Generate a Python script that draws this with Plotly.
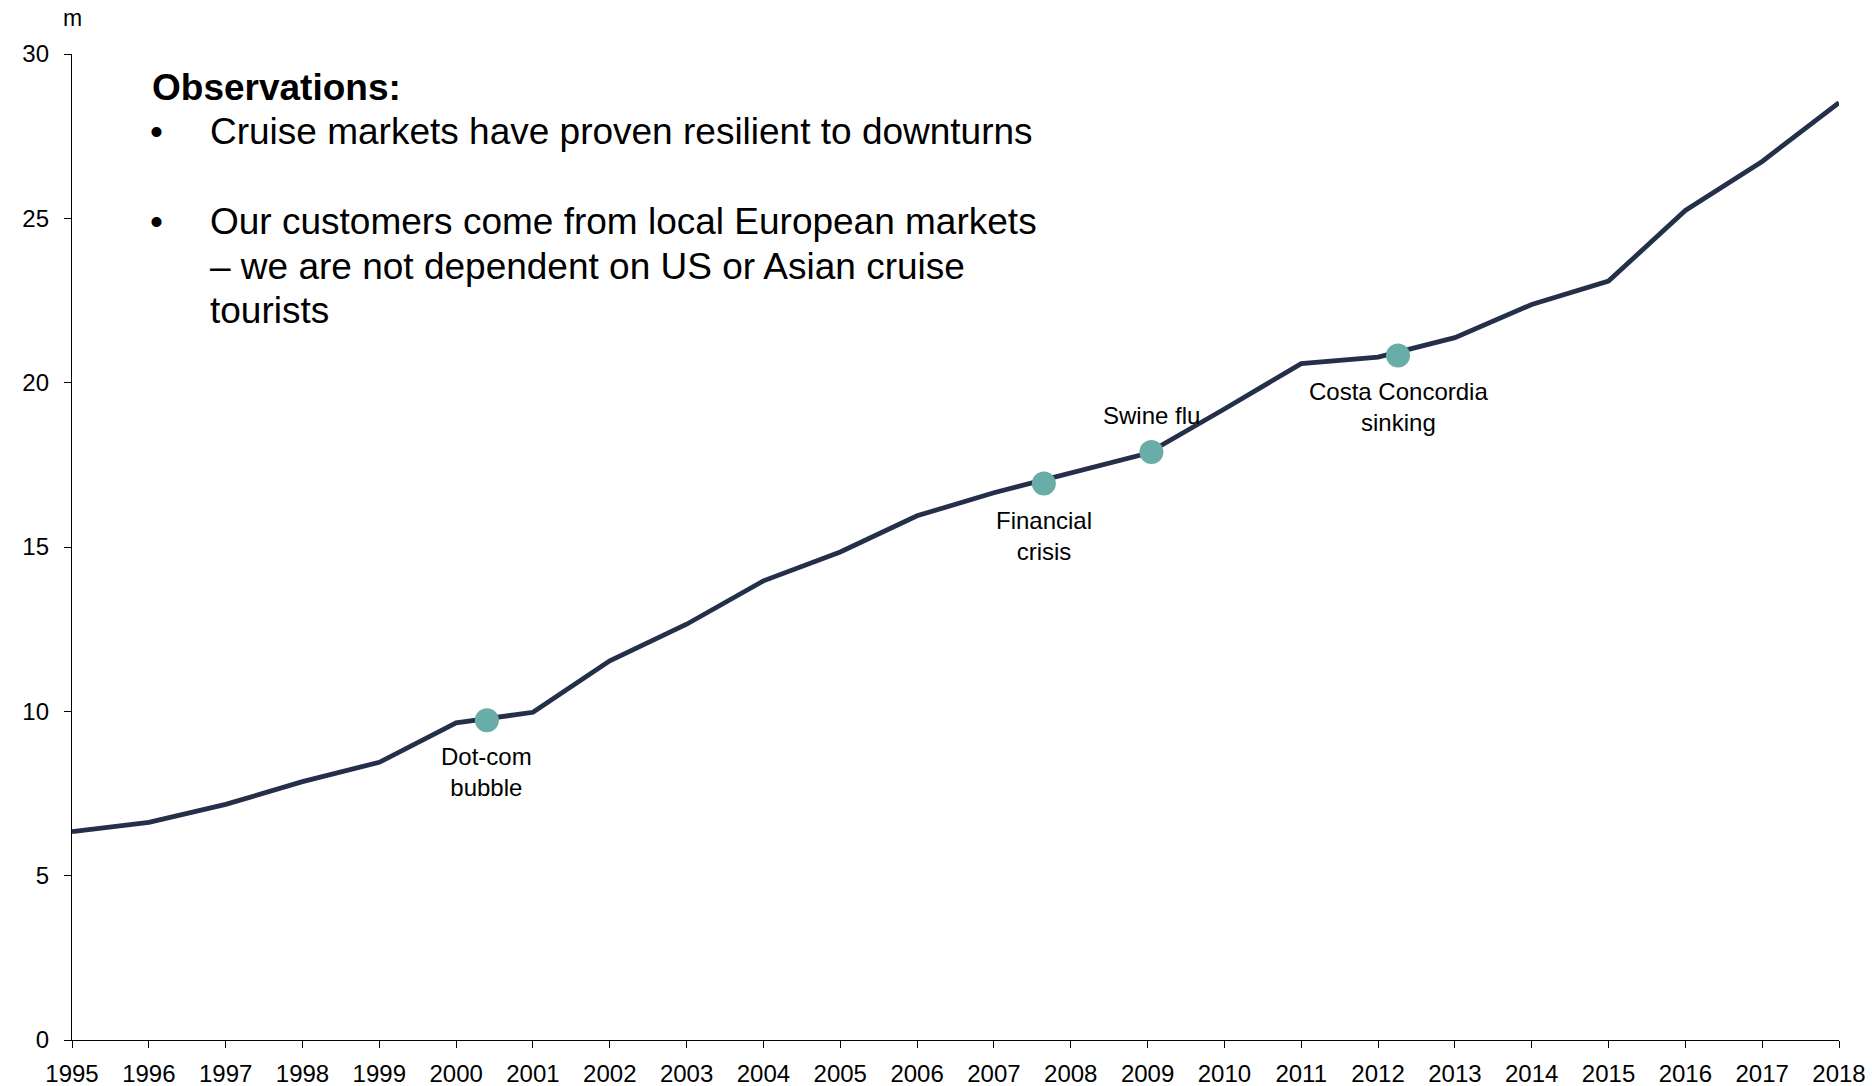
import plotly.graph_objects as go

# ---- data ----
years = list(range(1995, 2019))
passengers_m = [6.34, 6.62, 7.17, 7.86, 8.45, 9.65, 9.97, 11.54, 12.65, 13.97,
                14.85, 15.95, 16.65, 17.25, 17.85, 19.20, 20.58, 20.78, 21.37,
                22.38, 23.09, 25.24, 26.73, 28.52]

event_labels = ["Dot-com<br>bubble", "Financial<br>crisis", "Swine flu",
                "Costa Concordia<br>sinking"]
event_x = [2000.40, 2007.65, 2009.05, 2012.26]
event_y = [9.73, 16.93, 17.89, 20.83]
event_label_below = [True, True, False, True]

y_ticks = [0, 5, 10, 15, 20, 25, 30]
x_ticks = years

obs_title = "Observations:"
obs_lines = [
    ("•", "Cruise markets have proven resilient to downturns"),
    ("•", "Our customers come from local European markets"),
    ("", "– we are not dependent on US or Asian cruise"),
    ("", "tourists"),
]
unit_label = "m"

# ---- styling ----
FONT = "Liberation Sans, Arial, sans-serif"
LINE_COLOR = "#243049"
MARKER_COLOR = "#68ADA8"
W, H = 1872, 1086
L, R, T, B = 72, 33, 54, 46
PW, PH = W - L - R, H - T - B


def px_x(px):
    return (px - L) / PW


def px_y(py):
    return (H - B - py) / PH


fig = go.Figure()
fig.add_trace(go.Scatter(
    x=years, y=passengers_m, mode="lines",
    line=dict(color=LINE_COLOR, width=4.8),
    hoverinfo="skip", showlegend=False,
))
fig.add_trace(go.Scatter(
    x=event_x, y=event_y, mode="markers",
    marker=dict(color=MARKER_COLOR, size=24, line=dict(width=0)),
    cliponaxis=False, hoverinfo="skip", showlegend=False,
))

annotations = []
for lab, ex, ey, below in zip(event_labels, event_x, event_y, event_label_below):
    annotations.append(dict(
        x=ex, y=ey, xref="x", yref="y", text=lab, showarrow=False,
        xanchor="center", yanchor="top" if below else "bottom",
        yshift=-21 if below else 21,
        font=dict(family=FONT, size=24, color="black"), align="center",
    ))

annotations.append(dict(
    x=px_x(150), y=px_y(87), xref="paper", yref="paper",
    text="<b>" + obs_title + "</b>", showarrow=False,
    xanchor="left", yanchor="middle",
    font=dict(family=FONT, size=37, color="black"),
))
line_centers = [131, 221, 266, 310]
for (bullet, txt), cy in zip(obs_lines, line_centers):
    if bullet:
        annotations.append(dict(
            x=px_x(148), y=px_y(cy), xref="paper", yref="paper",
            text=bullet, showarrow=False, xanchor="left", yanchor="middle",
            font=dict(family=FONT, size=37, color="black"),
        ))
    annotations.append(dict(
        x=px_x(208), y=px_y(cy), xref="paper", yref="paper",
        text=txt, showarrow=False, xanchor="left", yanchor="middle",
        font=dict(family=FONT, size=37, color="black"),
    ))

annotations.append(dict(
    x=0, y=px_y(18), xref="paper", yref="paper", text=unit_label,
    showarrow=False, xanchor="center", yanchor="middle",
    font=dict(family=FONT, size=23, color="black"),
))

fig.update_layout(
    width=W, height=H,
    margin=dict(l=L, r=R, t=T, b=B, pad=0, autoexpand=False),
    paper_bgcolor="white", plot_bgcolor="white",
    font=dict(family=FONT, size=24, color="black"),
    annotations=annotations,
    xaxis=dict(
        range=[1995, 2018], tickmode="array", tickvals=x_ticks,
        ticktext=[str(y) for y in x_ticks],
        showgrid=False, zeroline=False, showline=True,
        linecolor="black", linewidth=1.3, automargin=False,
        ticks="outside", ticklen=7, tickwidth=1.3, tickcolor="black",
        ticklabelstandoff=5,
        tickfont=dict(family=FONT, size=24, color="black"),
    ),
    yaxis=dict(
        range=[0, 30], tickmode="array", tickvals=y_ticks,
        showgrid=False, zeroline=False, showline=True,
        linecolor="black", linewidth=1.3, automargin=False,
        ticks="outside", ticklen=7, tickwidth=1.3, tickcolor="black",
        ticklabelstandoff=10,
        tickfont=dict(family=FONT, size=24, color="black"),
    ),
)

fig.write_html("out.html")
